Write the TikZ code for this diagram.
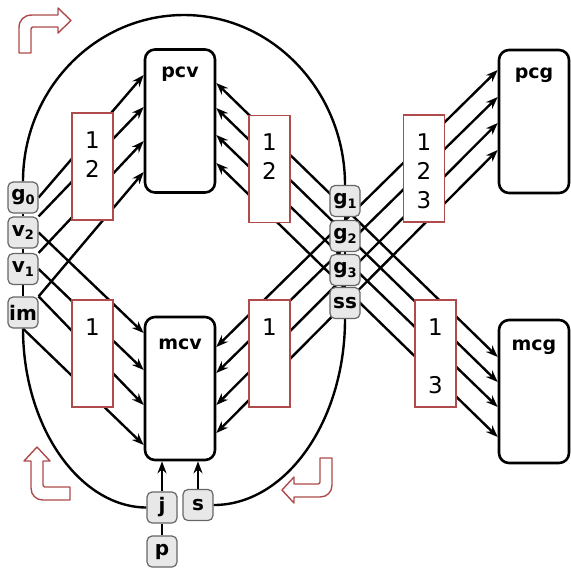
\documentclass[tikz,border=0pt]{standalone}
\usepackage{fontspec}
\setmainfont{DejaVu Sans}
\usetikzlibrary{positioning,arrows.meta,backgrounds,calc}

\definecolor{caixa}{RGB}{175,75,75}
\definecolor{fundo}{RGB}{232,232,232}
\newcommand{\indice}[1]{\raisebox{-1.8pt}{\fontsize{6.5}{7}\selectfont #1}}

\tikzset{
    bloco/.style={draw, line width=1.3pt, rounded corners=5pt, minimum width=35pt, minimum height=71.5pt},
    titulo/.style={font=\fontsize{9.5}{11}\selectfont\bfseries},
    nums/.style={draw=caixa, fill=white, line width=0.6pt, minimum width=20.5pt, minimum height=53.5pt},
    digitos/.style={inner sep=0pt, align=center, font=\fontsize{11.5}{14.5}\selectfont},
    etq/.style={draw=gray!80!black, fill=fundo, rounded corners=2.5pt, line width=0.6pt, minimum width=15pt, minimum height=15.5pt, inner sep=0pt, font=\fontsize{10}{10}\selectfont\bfseries},
    lig/.style={line width=1.2pt, -{Stealth[length=6pt,width=4.5pt]}},
    duas/.style={line width=1.2pt, {Stealth[length=6pt,width=4.5pt]}-{Stealth[length=6pt,width=4.5pt]}},
    fio/.style={line width=1.2pt},
    volta/.style={draw=caixa, fill=white, line width=0.7pt, line join=round},
}

\begin{document}
\begin{tikzpicture}[x=0.5pt, y=-0.5pt]
    \useasboundingbox (0,0) rectangle (571,570);

    % Blocos
    \node[bloco] (pcv) at (180,121) {};
    \node[bloco] (mcv) at (180,388.5) {};
    \node[bloco] (pcg) at (534,121.5) {};
    \node[bloco] (mcg) at (534,391.5) {};
    \node[titulo, below=6pt of pcv.north] (tpcv) {pcv};
    \node[titulo, below=8pt of mcv.north] (tmcv) {mcv};
    \node[titulo, below=6pt of pcg.north] (tpcg) {pcg};
    \node[titulo, below=7pt of mcg.north] (tmcg) {mcg};

    % Caixas com números
    \node[nums] (nLU) at (92.5,166.5) {};
    \node[nums] (nLD) at (92.5,353.5) {};
    \node[nums] (nCU) at (269.5,169) {};
    \node[nums] (nCD) at (269.5,353.5) {};
    \node[nums] (nRU) at (424,168.5) {};
    \node[nums] (nRD) at (435.5,353.5) {};
    \node[digitos, below=9.3pt of nLU.north] (dLU) {1\\2};
    \node[digitos, below=9.3pt of nLD.north] (dLD) {1};
    \node[digitos, below=9.3pt of nCU.north] (dCU) {1\\2};
    \node[digitos, below=9.3pt of nCD.north] (dCD) {1};
    \node[digitos, below=9.3pt of nRU.north] (dRU) {1\\2\\3};
    \node[digitos, below=9.3pt of nRD.north] (dRD) {1\\\mbox{}\\3};

    % Etiquetas
    \node[etq] (g0) at (23,197.5) {g\indice{0}};
    \node[etq] (v2) at (23,232.5) {v\indice{2}};
    \node[etq] (v1) at (23,269) {v\indice{1}};
    \node[etq] (im) at (23,312.5) {im};
    \node[etq] (g1) at (345,201) {g\indice{1}};
    \node[etq] (g2) at (345,236) {g\indice{2}};
    \node[etq] (g3) at (345,270) {g\indice{3}};
    \node[etq] (ss) at (345,303) {ss};
    \node[etq] (j) at (162,507.5) {j};
    \node[etq] (s) at (198,505) {s};
    \node[etq] (p) at (162,551.5) {p};

    % Pontos nas bordas dos blocos
    \foreach \i/\y in {1/75,2/107,3/141,4/172} \coordinate (pcvL\i) at (pcv.west |- 0,\y);
    \foreach \i/\y in {1/333,2/370,3/405,4/445} \coordinate (mcvL\i) at (mcv.west |- 0,\y);
    \foreach \i/\y in {1/83,2/108,3/135,4/163} \coordinate (pcvR\i) at (pcv.east |- 0,\y);
    \foreach \i/\y in {1/347,2/373,3/405,4/433} \coordinate (mcvR\i) at (mcv.east |- 0,\y);
    \foreach \i/\y in {1/70,2/97,3/123,4/150} \coordinate (pcgL\i) at (pcg.west |- 0,\y);
    \foreach \i/\y in {1/357,2/382,3/407,4/437} \coordinate (mcgL\i) at (mcg.west |- 0,\y);

    \begin{scope}[on background layer]
        % Esquerda
        \draw[lig] (g0.east) -- (pcvL1);
        \draw[lig] (v2.north east) -- (pcvL2);
        \draw[lig] (v1.north east) -- (pcvL3);
        \draw[lig] (im.north east) -- (pcvL4);
        \draw[lig] (v2.east) -- (mcvL1);
        \draw[lig] (v1.east) -- (mcvL2);
        \draw[lig] (im.north east) -- (mcvL3);
        \draw[lig] (im.south) -- (mcvL4);

        % Direita
        \foreach \i in {1,...,4} {
            \draw[duas] (pcvR\i) -- (mcgL\i);
            \draw[duas] (mcvR\i) -- (pcgL\i);
        }

        % Oval
        \draw[fio] (g0.north) .. controls (23,90) and (95,15) .. (184,15)
            .. controls (273,15) and (345,92) .. (g1.north);
        \draw[fio] (im.south) .. controls (23,426) and (79,507) .. (j.west);
        \draw[fio] (ss.south) .. controls (345,421) and (286,505) .. (s.east);
        \draw[fio] (g0) -- (v2) -- (v1) -- (im);
        \draw[fio] (g1) -- (g2) -- (g3) -- (ss);
        \draw[fio] (j) -- (p);
        \draw[lig] (j) -- (j |- mcv.south);
        \draw[lig] (s) -- (s |- mcv.south);
    \end{scope}

    % Setas curvas
    \draw[volta] (19,53) -- (19,28) .. controls (19,20) and (24,15) .. (32,15) -- (58,15)
        -- (58,8) -- (71,20.5) -- (58,33) -- (58,27) -- (33,27) .. controls (32,27) and (31,28) .. (31,29)
        -- (31,53) -- cycle;
    \draw[volta] (43,461) -- (50,461) -- (37,447) -- (24,461) -- (31,461) -- (31,488)
        .. controls (31,495) and (36,500) .. (43,500) -- (70,500) -- (70,487) -- (45,487)
        .. controls (44,487) and (43,486) .. (43,485) -- cycle;
    \draw[volta] (320,458) -- (332,458) -- (332,485) .. controls (332,492) and (327,497) .. (320,497)
        -- (294,497) -- (294,503) -- (282,490) -- (294,477) -- (294,484) -- (318,484)
        .. controls (319,484) and (320,483) .. (320,482) -- cycle;
\end{tikzpicture}
\end{document}
